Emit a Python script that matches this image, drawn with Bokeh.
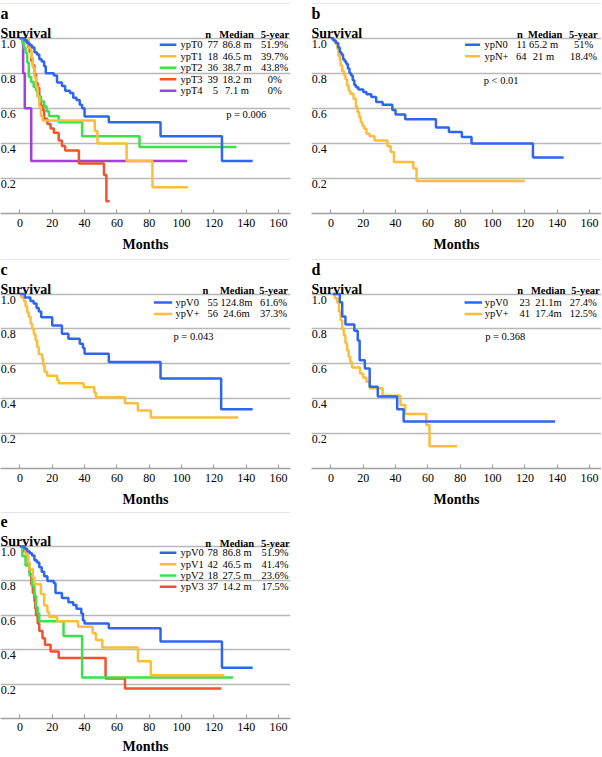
from bokeh.plotting import figure
from bokeh.layouts import gridplot
from bokeh.models import Range1d, FixedTicker, Grid
from bokeh.core.properties import value
from bokeh.embed import file_html
from bokeh.resources import INLINE

FONT = "Liberation Serif"
BLUE, YELLOW, GREEN, RED, PURPLE = "#2f66f0", "#fbbd3b", "#3ee04c", "#f2522e", "#a43ee0"

# ---------------- data ----------------
x_ticks = [0, 20, 40, 60, 80, 100, 120, 140, 160]
y_tick_values = [1.0, 0.8, 0.6, 0.4, 0.2]
y_tick_labels = ["1.0", "0.8", "0.6", "0.4", "0.2"]

# panel a (ypT)
a_T0_x = [0, 3, 4.5, 6, 7.5, 9, 10.5, 12, 13.5, 15, 16, 21, 23, 26, 28, 31, 33, 35, 37, 38.5, 40, 55, 87, 125, 144]
a_T0_y = [1.0, 0.987, 0.973, 0.96, 0.947, 0.92, 0.907, 0.88, 0.867, 0.84, 0.80, 0.787, 0.747, 0.727, 0.70, 0.687, 0.66, 0.647, 0.62, 0.60, 0.553, 0.52, 0.44, 0.30, 0.30]
a_T1_x = [0, 5.5, 7, 8, 9, 10, 11, 12, 13, 14, 46.3, 48, 66, 82, 104]
a_T1_y = [1.0, 0.944, 0.889, 0.833, 0.778, 0.722, 0.667, 0.611, 0.556, 0.53, 0.47, 0.40, 0.30, 0.15, 0.15]
a_T2_x = [0, 1.5, 2.5, 3.5, 4.5, 5.5, 7, 8.5, 10, 11, 13, 15, 16.5, 18, 24, 38.5, 74, 134]
a_T2_y = [1.0, 0.972, 0.944, 0.917, 0.861, 0.778, 0.75, 0.722, 0.70, 0.667, 0.639, 0.611, 0.583, 0.556, 0.52, 0.44, 0.38, 0.38]
a_T3_x = [0, 4, 5, 6, 7, 8, 9, 10, 11, 12, 13, 14, 15, 17, 19, 21, 24, 26, 28, 36.5, 52, 53.5, 55.5]
a_T3_y = [1.0, 0.974, 0.949, 0.923, 0.872, 0.846, 0.795, 0.744, 0.718, 0.667, 0.615, 0.59, 0.54, 0.51, 0.485, 0.46, 0.417, 0.385, 0.36, 0.285, 0.22, 0.07, 0.07]
a_T4_x = [0, 2, 3, 7, 103.5]
a_T4_y = [1.0, 0.8, 0.6, 0.3, 0.3]
a_names = ["ypT0", "ypT1", "ypT2", "ypT3", "ypT4"]
a_n = ["77", "18", "36", "39", "5"]
a_median = ["86.8 m", "46.5 m", "38.7 m", "18.2 m", "7.1 m"]
a_five = ["51.9%", "39.7%", "43.8%", "0%", "0%"]
a_p = "p = 0.006"

# panel b (ypN)
b_N0_x = [0, 1.5, 3, 4.5, 5.5, 6.5, 7.5, 8.5, 9.5, 10.5, 11.5, 12.5, 13.5, 14.5, 15.5, 17, 20, 22, 25, 28, 32, 38, 40, 46, 65, 73, 81, 87, 125, 144]
b_N0_y = [1.0, 0.987, 0.973, 0.947, 0.92, 0.907, 0.88, 0.867, 0.853, 0.827, 0.80, 0.787, 0.76, 0.733, 0.72, 0.707, 0.693, 0.68, 0.664, 0.636, 0.62, 0.59, 0.565, 0.537, 0.49, 0.465, 0.436, 0.40, 0.32, 0.32]
b_Np_x = [0, 2, 3, 4, 4.7, 5.5, 6, 7, 8, 9, 10, 11, 12, 14, 15.5, 16.5, 17.5, 18.5, 19.5, 20.5, 22, 24, 27, 35, 37, 39, 51, 53, 120]
b_Np_y = [1.0, 0.984, 0.969, 0.938, 0.90, 0.875, 0.844, 0.813, 0.79, 0.766, 0.73, 0.70, 0.683, 0.654, 0.607, 0.578, 0.55, 0.52, 0.50, 0.484, 0.455, 0.44, 0.417, 0.383, 0.351, 0.294, 0.256, 0.186, 0.186]
b_names = ["ypN0", "ypN+"]
b_n = ["11", "64"]
b_median = ["65.2 m", "21 m"]
b_five = ["51%", "18.4%"]
b_p = "p < 0.01"

# panel c (ypV)
c_V0_x = [0, 3, 6.5, 8.5, 10.3, 11.7, 13.2, 20, 26, 30, 37, 39, 40, 55, 87, 124.5, 144]
c_V0_y = [1.0, 0.98, 0.96, 0.945, 0.92, 0.90, 0.867, 0.82, 0.772, 0.744, 0.715, 0.69, 0.658, 0.611, 0.516, 0.34, 0.34]
c_Vp_x = [0, 0.8, 2.5, 3.5, 4.5, 5.5, 6.6, 7.6, 8.6, 9.7, 10.7, 11.7, 13.8, 14.4, 15.2, 16.9, 23, 24, 39.5, 46, 47, 65, 73, 81, 135]
c_Vp_y = [1.0, 0.98, 0.96, 0.93, 0.896, 0.87, 0.83, 0.80, 0.77, 0.734, 0.696, 0.655, 0.63, 0.592, 0.554, 0.531, 0.507, 0.488, 0.465, 0.435, 0.408, 0.374, 0.332, 0.292, 0.292]
c_names = ["ypV0", "ypV+"]
c_n = ["55", "56"]
c_median = ["124.8m", "24.6m"]
c_five = ["61.6%", "37.3%"]
c_p = "p = 0.043"

# panel d (ypV)
d_V0_x = [1, 5.5, 7, 9, 14.5, 16.6, 17.8, 21, 24, 29, 41, 45, 138.7]
d_V0_y = [1.0, 0.953, 0.871, 0.825, 0.79, 0.734, 0.62, 0.573, 0.469, 0.412, 0.34, 0.27, 0.27]
d_Vp_x = [1, 2.5, 4, 5, 6, 7, 8, 9, 10, 11, 12, 13, 18, 20, 22, 24, 32, 43, 46, 59, 61, 78]
d_Vp_y = [1.0, 0.976, 0.95, 0.90, 0.85, 0.80, 0.763, 0.72, 0.677, 0.64, 0.611, 0.579, 0.545, 0.52, 0.497, 0.46, 0.417, 0.364, 0.313, 0.25, 0.127, 0.127]
d_names = ["ypV0", "ypV+"]
d_n = ["23", "41"]
d_median = ["21.1m", "17.4m"]
d_five = ["27.4%", "12.5%"]
d_p = "p = 0.368"

# panel e (ypV0-3)
e_V0_x = [0, 3, 4.5, 6, 7.5, 9, 10.5, 12, 13.5, 15, 17, 21, 22, 26, 30, 33, 35, 38, 39, 40, 55, 87, 125, 144]
e_V0_y = [1.0, 0.987, 0.973, 0.96, 0.947, 0.92, 0.907, 0.88, 0.853, 0.827, 0.80, 0.787, 0.73, 0.70, 0.676, 0.66, 0.638, 0.61, 0.57, 0.552, 0.524, 0.448, 0.295, 0.295]
e_V1_x = [0, 3.5, 5, 6, 8, 9, 13, 15, 17, 18, 23, 36, 45, 47, 51, 73, 81, 126.4]
e_V1_y = [1.0, 0.952, 0.905, 0.867, 0.819, 0.78, 0.724, 0.657, 0.619, 0.59, 0.566, 0.533, 0.495, 0.457, 0.413, 0.333, 0.251, 0.251]
e_V2_x = [0, 1.5, 3.5, 6, 7.5, 9, 10, 11, 12, 27, 38.5, 131.8]
e_V2_y = [1.0, 0.943, 0.89, 0.832, 0.771, 0.714, 0.648, 0.61, 0.566, 0.48, 0.238, 0.238]
e_V3_x = [0, 2, 4, 5, 6, 7, 8, 9, 9.5, 10, 11, 12, 14, 15.5, 19, 24, 53, 65, 124.6]
e_V3_y = [1.0, 0.973, 0.946, 0.90, 0.84, 0.78, 0.73, 0.68, 0.638, 0.60, 0.552, 0.509, 0.467, 0.429, 0.39, 0.352, 0.232, 0.175, 0.175]
e_names = ["ypV0", "ypV1", "ypV2", "ypV3"]
e_n = ["78", "42", "18", "37"]
e_median = ["86.8 m", "46.5 m", "27.5 m", "14.2 m"]
e_five = ["51.9%", "41.4%", "23.6%", "17.5%"]

# ---------------- layout constants ----------------
FRAME_H = 213.0
PXY = 175.3          # pixels per survival unit
XMIN, XMAX = -12.0, 167.4
Y_TOP = FRAME_H / PXY
LEG_FS = "10.5px"


def py(px_below_one):
    """survival coordinate for a position given in px below the 1.0 line"""
    return 1.0 - px_below_one / PXY


def make_panel(letter, series, names, ns, medians, fives, pval, lay, width, right,
               height, mbb, lab_so, axl_so):
    p = figure(width=width, height=height, output_backend="svg", toolbar_location=None,
               x_range=Range1d(XMIN, XMAX), y_range=Range1d(0, Y_TOP),
               y_axis_location=None, min_border_left=0, min_border_right=right,
               min_border_top=0, min_border_bottom=mbb)
    p.outline_line_color = None
    p.xgrid.visible = False
    grid = Grid(dimension=1, ticker=FixedTicker(ticks=y_tick_values),
                grid_line_color="#b8b8b8", grid_line_width=1.5)
    p.add_layout(grid)

    ax = p.xaxis[0]
    ax.ticker = FixedTicker(ticks=x_ticks)
    ax.axis_line_color = "#a0a0a0"
    ax.axis_line_width = 1.5
    ax.major_tick_line_color = "#a0a0a0"
    ax.major_tick_line_width = 1.2
    ax.major_tick_in = 4
    ax.major_tick_out = 0
    ax.minor_tick_line_color = None
    ax.major_label_text_font = FONT
    ax.major_label_text_font_size = "12px"
    ax.major_label_text_color = "black"
    ax.major_label_standoff = lab_so
    ax.axis_label = "Months"
    ax.axis_label_text_font = FONT
    ax.axis_label_text_font_size = "14px"
    ax.axis_label_text_font_style = "bold"
    ax.axis_label_text_color = "black"
    ax.axis_label_standoff = axl_so

    # curves (last series drawn first so the first is on top)
    for xs, ys, col in reversed(series):
        p.step(xs, ys, mode="after", line_width=2.5, line_color=col)

    # y tick labels (drawn just under their grid lines, as in the original)
    p.text(x=[XMIN + 0.2] * len(y_tick_values), y=[v - 1.5 / PXY for v in y_tick_values],
           text=y_tick_labels, text_font=value(FONT), text_font_size="12px",
           text_baseline="top", text_align="left", text_color="black")
    # panel letter and y title
    p.text(x=[XMIN], y=[1.0 + 25 / PXY], text=[letter], text_font=value(FONT),
           text_font_size="16px", text_font_style="bold", text_baseline="alphabetic")
    p.text(x=[XMIN], y=[1.0 + 5 / PXY], text=["Survival"], text_font=value(FONT),
           text_font_size="14px", text_font_style="bold", text_baseline="alphabetic")

    # legend table header
    hy = 1.0 + 3.5 / PXY
    p.text(x=[lay["nh"], lay["mh"], lay["fh"]], y=[hy] * 3, text=["n", "Median", "5-year"],
           text_font=value(FONT), text_font_size=LEG_FS, text_font_style="bold",
           text_align="center", text_baseline="alphabetic")

    rows_y = [py(lay["r0"] + 11.5 * i) for i in range(len(names))]
    cols = [s[2] for s in series]
    p.segment(x0=[lay["s0"]] * len(names), x1=[lay["s1"]] * len(names), y0=rows_y, y1=rows_y,
              line_color=cols, line_width=2.5)
    common = dict(text_font=value(FONT), text_font_size=LEG_FS, text_baseline="middle",
                  text_color="black")
    p.text(x=[lay["lx"]] * len(names), y=rows_y, text=names, text_align="left", **common)
    p.text(x=[lay["nx"]] * len(names), y=rows_y, text=ns, text_align="right", **common)
    p.text(x=[lay["mx"]] * len(names), y=rows_y, text=medians, text_align="center", **common)
    p.text(x=[lay["fx"]] * len(names), y=rows_y, text=fives, text_align="center", **common)

    if pval:
        p.text(x=[lay["px"]], y=[py(lay["py"])], text=[pval], text_align="center", **common)
    return p


lay_a = dict(nh=116.5, mh=134, fh=157.8, s0=86.5, s1=96.8, lx=99.3, nx=122.6, mx=134.3, fx=157.6,
             r0=6.5, px=140, py=76.3)
lay_e = dict(nh=116.5, mh=134.3, fh=158, s0=86.5, s1=96.8, lx=99.3, nx=122.6, mx=134.3, fx=157.8, r0=6.5)
lay_b = dict(nh=117, mh=132.6, fh=156.2, s0=83, s1=92.3, lx=95, nx=121, mx=131.5, fx=156.3, r0=6.5,
             px=105.3, py=42.4)
lay_c = dict(nh=114.8, mh=134.4, fh=156.9, s0=82.9, s1=94.2, lx=96.3, nx=122.6, mx=134, fx=156.9,
             r0=8.5, px=107.4, py=42.4)
lay_d = dict(nh=117.1, mh=134.4, fh=157.5, s0=82.7, s1=93.6, lx=95.1, nx=123.2, mx=134.6, fx=156.1,
             r0=8.5, px=107.8, py=42.4)

WA, RA = 311, 21     # left column figure width / right border
WB, RB = 290, 0      # right column
H1, H2, H3 = 256, 253, 247

pa = make_panel("a", [(a_T0_x, a_T0_y, BLUE), (a_T1_x, a_T1_y, YELLOW), (a_T2_x, a_T2_y, GREEN),
                      (a_T3_x, a_T3_y, RED), (a_T4_x, a_T4_y, PURPLE)],
                a_names, a_n, a_median, a_five, a_p, lay_a, WA, RA, H1, H1 - 213, 5, 7)
pb = make_panel("b", [(b_N0_x, b_N0_y, BLUE), (b_Np_x, b_Np_y, YELLOW)],
                b_names, b_n, b_median, b_five, b_p, lay_b, WB, RB, H1, H1 - 213, 5, 7)
pc = make_panel("c", [(c_V0_x, c_V0_y, BLUE), (c_Vp_x, c_Vp_y, YELLOW)],
                c_names, c_n, c_median, c_five, c_p, lay_c, WA, RA, H2, H2 - 213, 5, 7)
pd_ = make_panel("d", [(d_V0_x, d_V0_y, BLUE), (d_Vp_x, d_Vp_y, YELLOW)],
                 d_names, d_n, d_median, d_five, d_p, lay_d, WB, RB, H2, H2 - 213, 5, 7)
pe = make_panel("e", [(e_V0_x, e_V0_y, BLUE), (e_V1_x, e_V1_y, YELLOW), (e_V2_x, e_V2_y, GREEN),
                      (e_V3_x, e_V3_y, RED)],
                e_names, e_n, e_median, e_five, None, lay_e, WA, RA, H3, 0, 4, 5)

layout = gridplot([[pa, pb], [pc, pd_], [pe, None]], toolbar_location=None)

open("out.html", "w").write(file_html(layout, INLINE))
